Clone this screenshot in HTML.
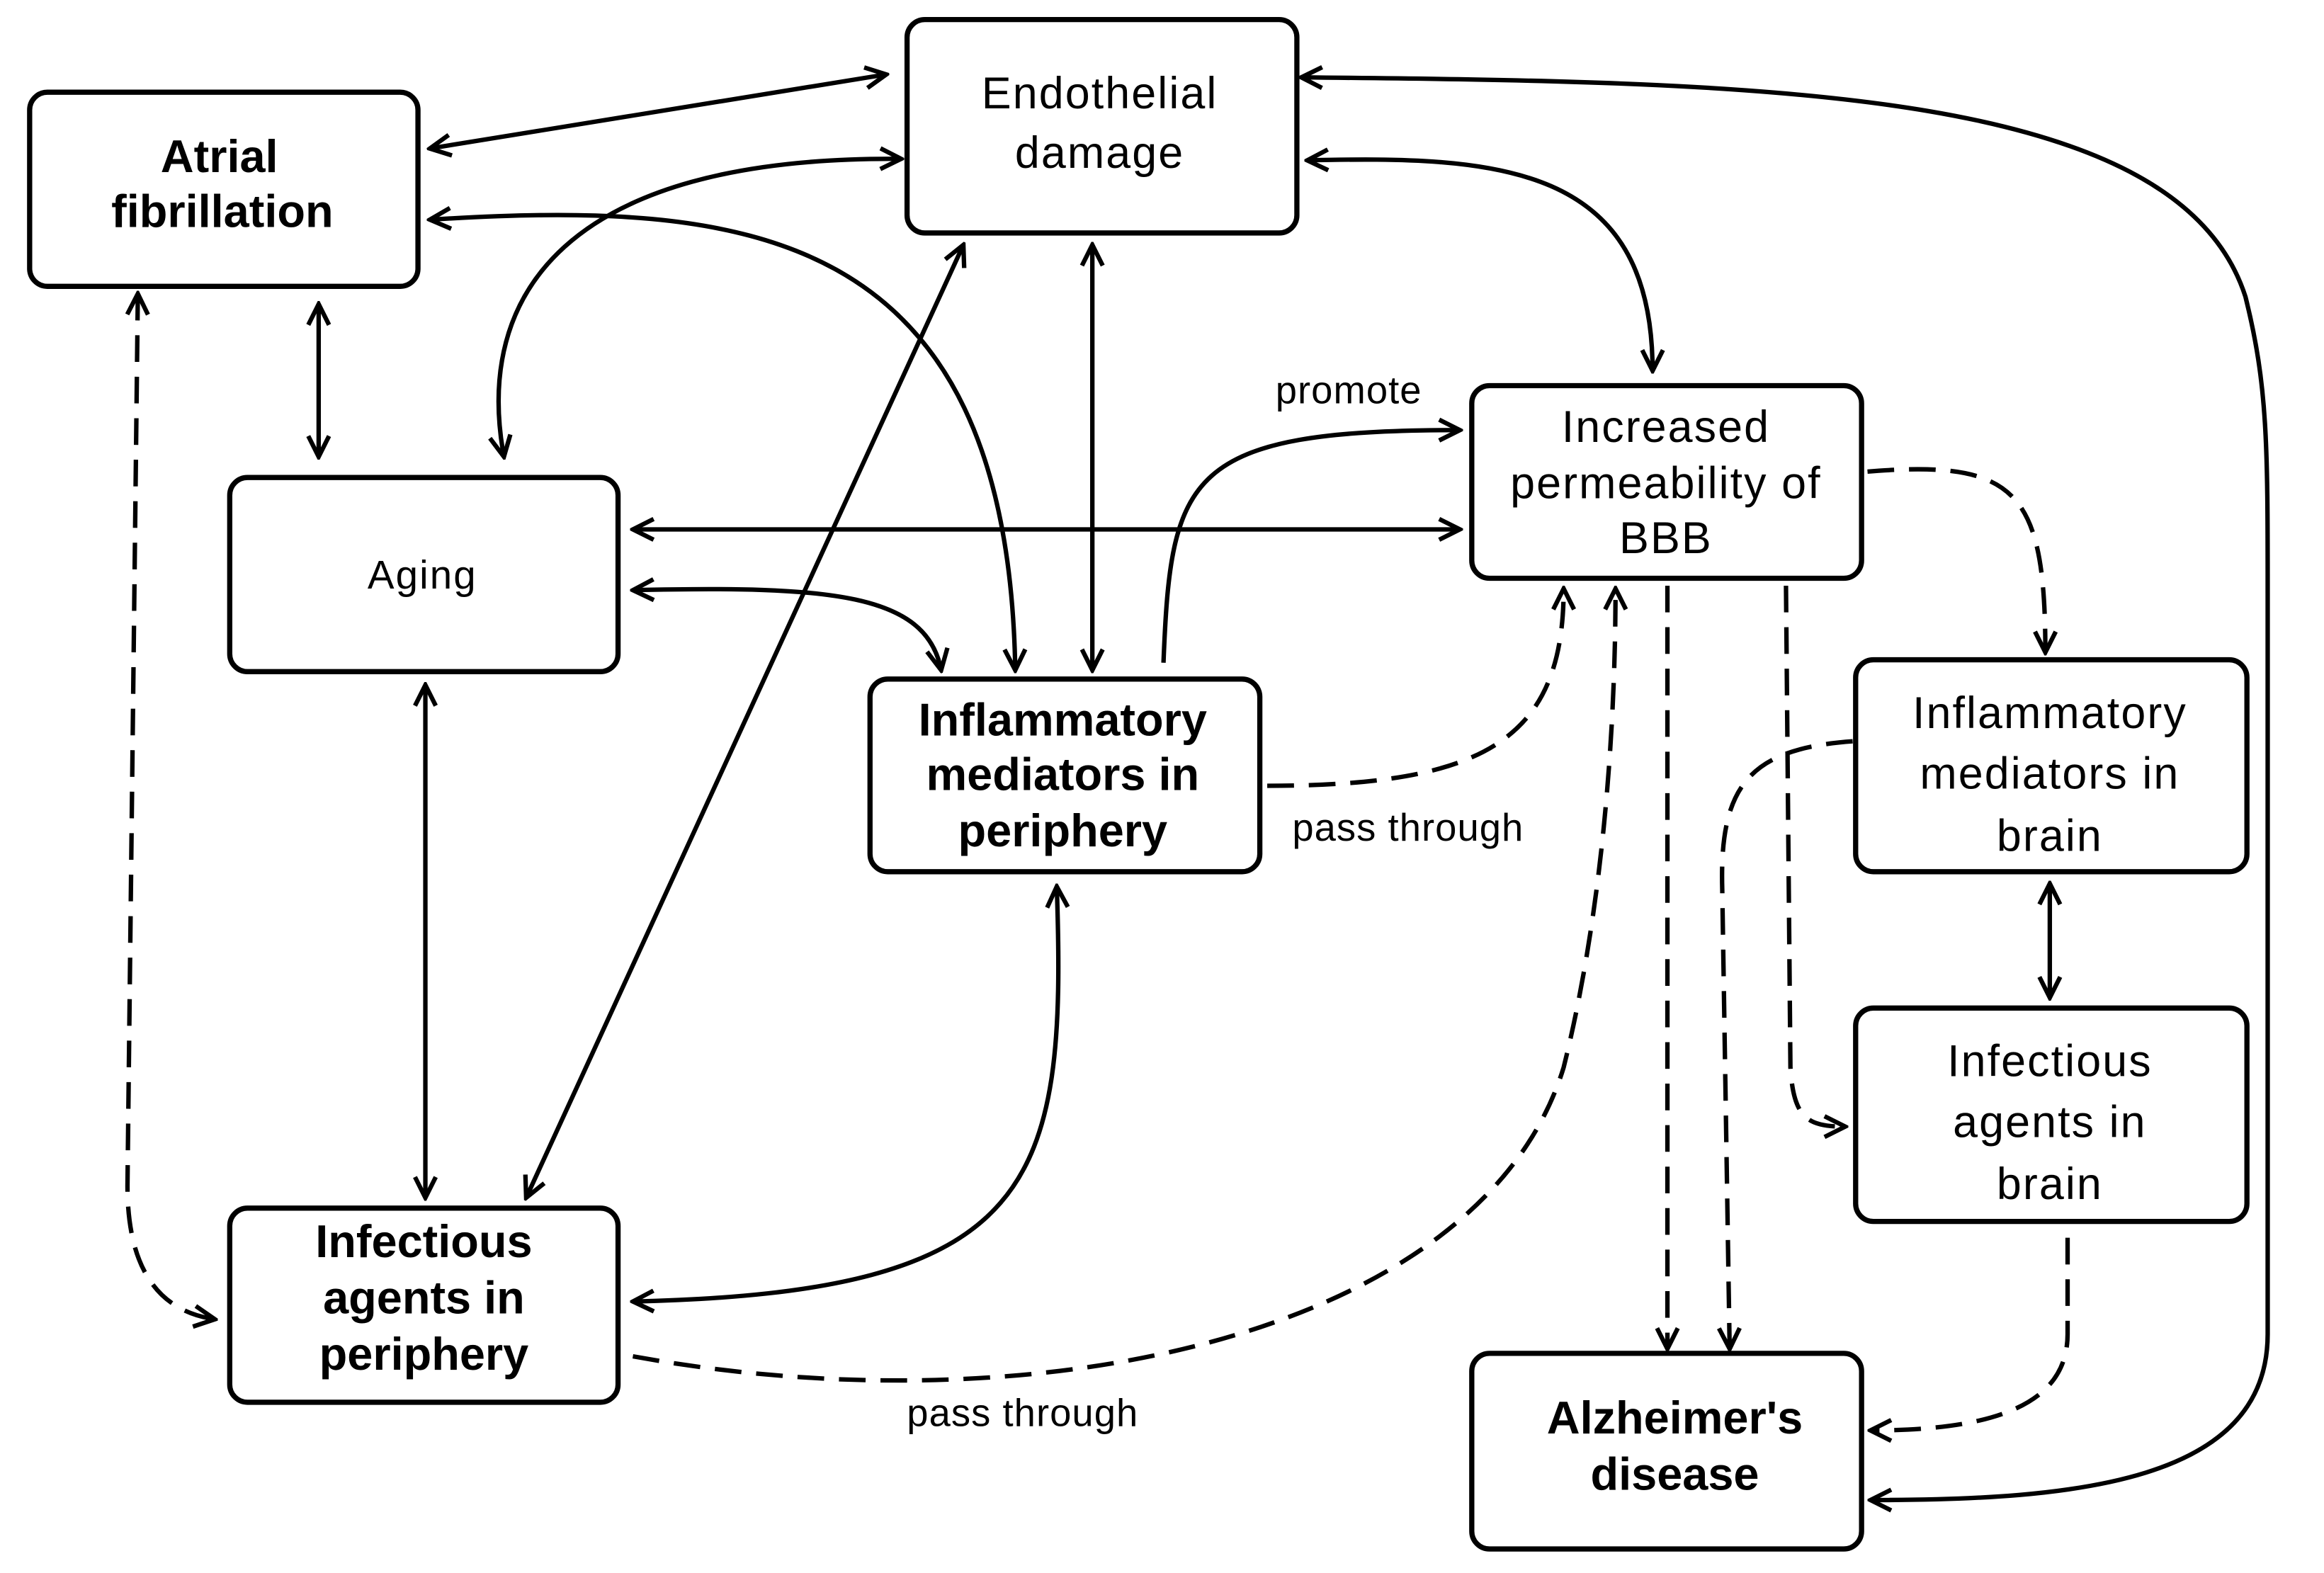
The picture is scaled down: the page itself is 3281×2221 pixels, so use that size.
<!DOCTYPE html>
<html><head><meta charset="utf-8"><style>
html,body{margin:0;padding:0;background:#fff;}
svg{display:block;}
text{font-family:"Liberation Sans",Arial,sans-serif;fill:#000;text-anchor:middle;}
.b{font-weight:bold;font-size:31px;}
.n{font-size:30px;letter-spacing:1px;}
.s{font-size:26px;letter-spacing:0.5px;}
</style></head><body>
<svg width="3281" height="2221" viewBox="0 0 1568 1061" xmlns="http://www.w3.org/2000/svg">
<defs>
<marker id="a" viewBox="0 0 20 20" refX="18" refY="10" markerWidth="20" markerHeight="20" markerUnits="userSpaceOnUse" orient="auto-start-reverse">
<polyline points="4,3 18,10 4,17" fill="none" stroke="#000" stroke-width="3"/>
</marker>
</defs>
<g fill="#fff" stroke="#000" stroke-width="3.5">
<rect x="20" y="62" width="262" height="131" rx="12"/>
<rect x="612" y="13" width="263" height="144" rx="12"/>
<rect x="155" y="322" width="262" height="131" rx="12"/>
<rect x="587" y="458" width="263" height="130" rx="12"/>
<rect x="993" y="260" width="263" height="130" rx="12"/>
<rect x="1252" y="445" width="264" height="143" rx="12"/>
<rect x="1252" y="680" width="264" height="144" rx="12"/>
<rect x="155" y="815" width="262" height="131" rx="12"/>
<rect x="993" y="913" width="263" height="132" rx="12"/>
</g>
<g fill="none" stroke="#000" stroke-width="3" marker-end="url(#a)">
<path d="M290,100 L598,50" marker-start="url(#a)"/>
<path d="M340,308 C320,200 380,105 608,107" marker-start="url(#a)"/>
<path d="M290,148 C500,135 680,150 685,452" marker-start="url(#a)"/>
<path d="M215,205 L215,308" marker-start="url(#a)"/>
<path d="M93,198 L86,800 C86,860 110,885 145,890" stroke-dasharray="18,10" marker-start="url(#a)"/>
<path d="M427,357 L985,357" marker-start="url(#a)"/>
<path d="M427,398 C560,395 625,400 635,452" marker-start="url(#a)"/>
<path d="M287,462 L287,808" marker-start="url(#a)"/>
<path d="M737,165 L737,452" marker-start="url(#a)"/>
<path d="M650,165 L355,808" marker-start="url(#a)"/>
<path d="M882,108 C1010,105 1115,110 1115,250" marker-start="url(#a)"/>
<path d="M878,52 C1200,55 1470,60 1515,200 C1530,260 1530,300 1530,400 L1530,900 C1530,1000 1400,1012 1262,1012" marker-start="url(#a)"/>
<path d="M785,447 C790,320 800,290 985,290"/>
<path d="M855,530 C1000,530 1055,500 1055,397" stroke-dasharray="18,10"/>
<path d="M713,598 C720,800 700,872 427,878" marker-start="url(#a)"/>
<path d="M427,915 C700,965 1000,900 1055,720 C1080,620 1090,500 1090,397" stroke-dasharray="18,10"/>
<path d="M1260,318 C1360,310 1380,330 1380,440" stroke-dasharray="18,10"/>
<path d="M1125,395 L1125,910" stroke-dasharray="18,10"/>
<path d="M1205,395 L1208,720 C1210,755 1220,760 1245,760" stroke-dasharray="18,10"/>
<path d="M1250,500 C1180,505 1160,530 1162,600 L1167,910" stroke-dasharray="18,10"/>
<path d="M1383,596 L1383,673" marker-start="url(#a)"/>
<path d="M1395,835 L1395,900 C1395,950 1340,965 1262,965" stroke-dasharray="18,10"/>
</g>
<text class="b" x="148" y="116">Atrial</text>
<text class="b" x="150" y="153">fibrillation</text>
<text class="n" x="742" y="73">Endothelial</text>
<text class="n" x="742" y="113">damage</text>
<text class="n" x="285" y="397" style="font-size:27px">Aging</text>
<text class="b" x="717" y="496">Inflammatory</text>
<text class="b" x="717" y="533">mediators in</text>
<text class="b" x="717" y="571">periphery</text>
<text class="n" x="1124" y="298">Increased</text>
<text class="n" x="1124" y="336">permeability of</text>
<text class="n" x="1124" y="373">BBB</text>
<text class="n" x="1383" y="491">Inflammatory</text>
<text class="n" x="1383" y="532">mediators in</text>
<text class="n" x="1383" y="574">brain</text>
<text class="n" x="1383" y="726">Infectious</text>
<text class="n" x="1383" y="767">agents in</text>
<text class="n" x="1383" y="809">brain</text>
<text class="b" x="286" y="848">Infectious</text>
<text class="b" x="286" y="886">agents in</text>
<text class="b" x="286" y="924">periphery</text>
<text class="b" x="1130" y="967">Alzheimer's</text>
<text class="b" x="1130" y="1005">disease</text>
<text class="s" x="910" y="272">promote</text>
<text class="s" x="950" y="567">pass through</text>
<text class="s" x="690" y="962">pass through</text>
</svg>
</body></html>
